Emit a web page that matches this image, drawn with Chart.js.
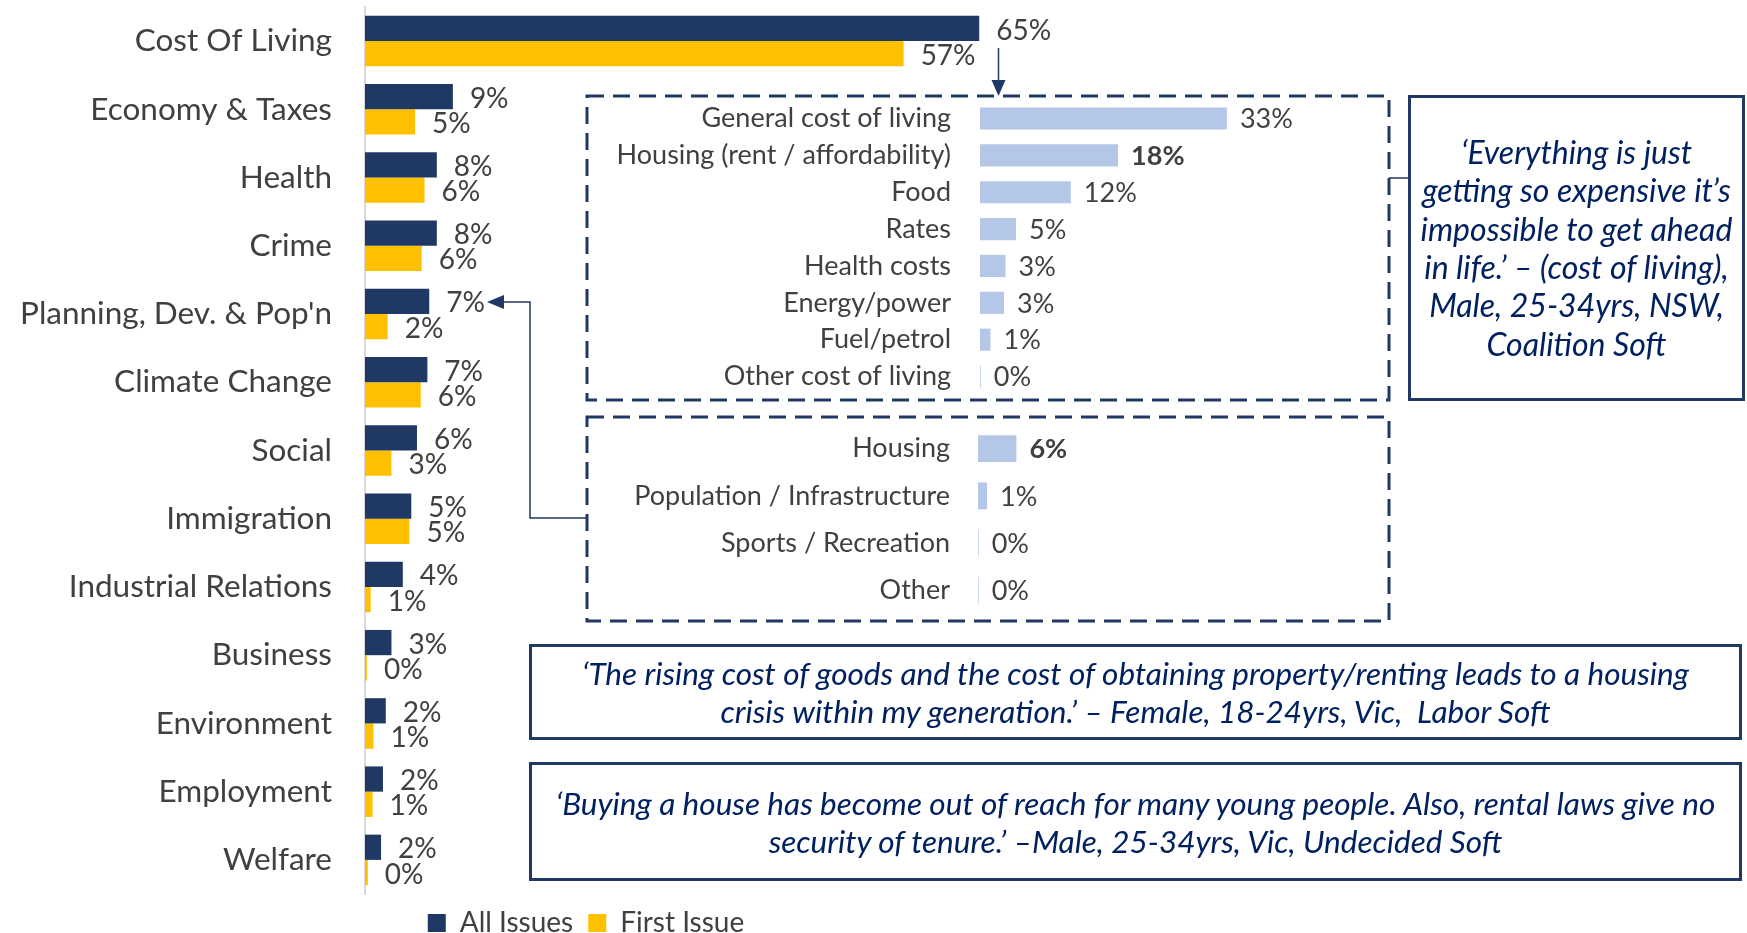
<!DOCTYPE html>
<html>
<head>
<meta charset="utf-8">
<script src="https://cdn.jsdelivr.net/npm/chart.js@4.4.1/dist/chart.umd.min.js"></script>
<style>
  html, body { margin: 0; padding: 0; background: #fff; width: 1747px; height: 933px; overflow: hidden; }
  body { position: relative; font-family: Lato, sans-serif; }
  canvas { position: absolute; }
  #main { left: 0; top: 0; }
  #inset1 { left: 600px; top: 100px; }
  #inset2 { left: 600px; top: 425px; }
  svg { position: absolute; left: 0; top: 0; }
  .quote { position: absolute; display: flex; align-items: center; justify-content: center;
           text-align: center; color: #002060; font-style: italic; font-size: 31.5px; line-height: 38px; }
</style>
</head>
<body>
<canvas id="main" width="1172" height="947"></canvas>
<canvas id="inset1" width="780" height="295"></canvas>
<canvas id="inset2" width="780" height="189"></canvas>

<svg width="1747" height="933">
  <g fill="none" stroke="#1f3864">
    <rect x="587" y="96" width="802" height="304" stroke-width="3" stroke-dasharray="17 9"/>
    <rect x="587" y="417" width="802" height="204" stroke-width="3" stroke-dasharray="17 9"/>
    <rect x="1409.5" y="96.5" width="334" height="303" stroke-width="3"/>
    <rect x="530.5" y="645.5" width="1210" height="93" stroke-width="3"/>
    <rect x="530.5" y="763.5" width="1210" height="116" stroke-width="3"/>
    <line x1="1389" y1="178" x2="1409" y2="178" stroke-width="1.5"/>
    <line x1="998.5" y1="48" x2="998.5" y2="82" stroke-width="1.5"/>
    <polyline points="588,518 530,518 530,302 503,302" stroke-width="1.5"/>
  </g>
  <g fill="#1f3864">
    <polygon points="991.5,80 1005.5,80 998.5,96"/>
    <polygon points="487,302 504,295 504,309"/>
  </g>
</svg>

<div class="quote" style="left:1408px; top:95px; width:337px; height:306px; font-size:32px; line-height:38.4px;">‘Everything is just<br>getting so expensive it’s<br>impossible to get ahead<br>in life.’ – (cost of living),<br>Male, 25-34yrs, NSW,<br>Coalition Soft</div>
<div class="quote" style="left:529px; top:644px; width:1213px; height:96px;">‘The rising cost of goods and the cost of obtaining property/renting leads to a housing<br>crisis within my generation.’ – Female, 18-24yrs, Vic,&nbsp; Labor Soft</div>
<div class="quote" style="left:529px; top:762px; width:1213px; height:119px;">‘Buying a house has become out of reach for many young people. Also, rental laws give no<br>security of tenure.’ –Male, 25-34yrs, Vic, Undecided Soft</div>

<script>
// main chart: most important issue
const categories = ['Cost Of Living', 'Economy & Taxes', 'Health', 'Crime', "Planning, Dev. & Pop'n",
  'Climate Change', 'Social', 'Immigration', 'Industrial Relations', 'Business', 'Environment',
  'Employment', 'Welfare'];
const allIssues = [65, 9.3, 7.6, 7.6, 6.8, 6.6, 5.5, 4.9, 4.0, 2.8, 2.2, 1.9, 1.7];
const firstIssue = [57, 5.3, 6.3, 6.0, 2.4, 5.9, 2.8, 4.7, 0.6, 0.2, 0.9, 0.8, 0.3];
const seriesNames = ['All Issues', 'First Issue'];

// cost of living breakdown
const colCats = ['General cost of living', 'Housing (rent / affordability)', 'Food', 'Rates',
  'Health costs', 'Energy/power', 'Fuel/petrol', 'Other cost of living'];
const colValues = [32.9, 18.4, 12.1, 4.8, 3.4, 3.2, 1.4, 0.1];

// planning / development / population breakdown
const pdpCats = ['Housing', 'Population / Infrastructure', 'Sports / Recreation', 'Other'];
const pdpValues = [5.9, 1.4, 0.1, 0.1];

const NAVY = '#203864';
const GOLD = '#FFC000';
const LIGHT = '#B4C7E7';
const GREY = '#404040';
const FONT = 'Lato, sans-serif';

// draws the "xx%" next to each bar
const valueLabels = {
  id: 'valueLabels',
  afterDatasetsDraw(chart, args, opts) {
    const ctx = chart.ctx;
    ctx.save();
    ctx.fillStyle = GREY;
    ctx.textBaseline = 'middle';
    ctx.textAlign = 'left';
    chart.data.datasets.forEach((ds, di) => {
      const meta = chart.getDatasetMeta(di);
      meta.data.forEach((bar, i) => {
        const bold = (opts.bold || []).includes(i);
        ctx.font = (bold ? 'bold ' : '') + opts.size + 'px ' + FONT;
        ctx.fillText(Math.round(ds.data[i]) + '%', bar.x + opts.offset, bar.y + (opts.dy || 0));
      });
    });
    ctx.restore();
  }
};

// fixed axis width, and no extra room above/below the bars
function fixWidth(w) {
  return scale => {
    scale.width = w;
    scale.paddingTop = 0;
    scale.paddingBottom = 0;
  };
}

new Chart(document.getElementById('main'), {
  type: 'bar',
  data: {
    labels: categories,
    datasets: [
      { label: seriesNames[0], data: allIssues, backgroundColor: NAVY },
      { label: seriesNames[1], data: firstIssue, backgroundColor: GOLD }
    ]
  },
  options: {
    indexAxis: 'y',
    responsive: false,
    animation: false,
    layout: { padding: { top: 7, left: 0, right: 0, bottom: 0 } },
    datasets: { bar: { categoryPercentage: 0.74, barPercentage: 1 } },
    scales: {
      x: { display: false, min: 0, max: 85.4 },
      y: {
        afterFit: fixWidth(365),
        grid: { display: false, drawTicks: false },
        border: { display: true, color: '#d9d9d9', width: 2 },
        ticks: { padding: 33, color: GREY, font: { family: FONT, size: 31.5 } }
      }
    },
    plugins: {
      legend: {
        position: 'bottom',
        labels: { color: GREY, font: { family: FONT, size: 28 }, boxWidth: 18, boxHeight: 18, padding: 15 }
      },
      tooltip: { enabled: false },
      valueLabels: { size: 28, offset: 17, dy: 2 }
    }
  },
  plugins: [valueLabels]
});

function insetChart(id, cats, values, axisWidth, pad, max, barPct, bold) {
  new Chart(document.getElementById(id), {
    type: 'bar',
    data: { labels: cats, datasets: [{ data: values, backgroundColor: LIGHT }] },
    options: {
      indexAxis: 'y',
      responsive: false,
      animation: false,
      layout: { padding: 0 },
      datasets: { bar: { categoryPercentage: 1, barPercentage: barPct } },
      scales: {
        x: { display: false, min: 0, max: max },
        y: {
          afterFit: fixWidth(axisWidth),
          grid: { display: false, drawTicks: false },
          border: { display: false },
          ticks: { autoSkip: false, padding: pad, color: GREY, font: { family: FONT, size: 27 } }
        }
      },
      plugins: {
        legend: { display: false },
        tooltip: { enabled: false },
        valueLabels: { size: 27, offset: 13, dy: 1, bold: bold }
      }
    },
    plugins: [valueLabels]
  });
}

insetChart('inset1', colCats, colValues, 380, 29, 53.3, 0.6, [1]);
insetChart('inset2', pdpCats, pdpValues, 378, 28, 61.8, 0.57, [0]);
</script>
</body>
</html>
